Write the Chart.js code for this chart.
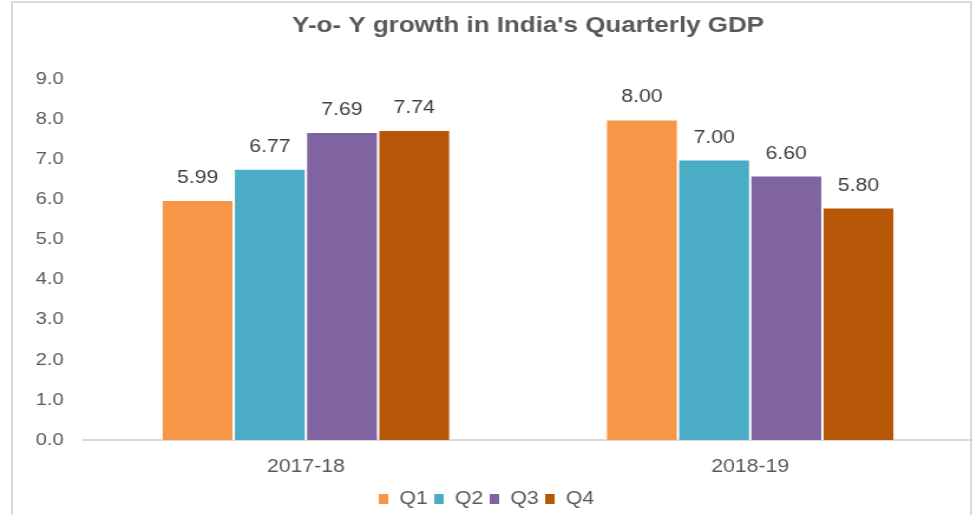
<!DOCTYPE html>
<html>
<head>
<meta charset="utf-8">
<script src="https://cdn.jsdelivr.net/npm/chart.js@4"></script>
<style>
    html, body { margin: 0; padding: 0; background: #fff; overflow: hidden; }
    #frame { position: absolute; left: 11px; top: 1px; width: 957px; height: 540px; border: 2px solid #d9d9d9; }
    /* the source picture is stretched sideways, so the chart is drawn narrow and scaled up */
    #wrap { position: absolute; left: 0; top: 0; width: 825px; height: 518px; transform: scaleX(1.18); transform-origin: 0 0; }
</style>
</head>
<body>
<div id="frame"></div>
<div id="wrap"><canvas id="bar_chart" width="825" height="518"></canvas></div>
<script>
var years = ["2017-18", "2018-19"];
var q1 = [5.99, 8.00];
var q2 = [6.77, 7.00];
var q3 = [7.69, 6.60];
var q4 = [7.74, 5.80];
var yTicks = [0, 1, 2, 3, 4, 5, 6, 7, 8, 9];

var textGrey = '#595959';
var fontFamily = '"Liberation Sans", Arial, sans-serif';

// draws the value on top of each bar
var valueLabels = {
    id: 'valueLabels',
    afterDatasetsDraw: function (chart) {
        var ctx = chart.ctx;
        ctx.save();
        ctx.font = '18px ' + fontFamily;
        ctx.fillStyle = '#404040';
        ctx.textAlign = 'center';
        ctx.textBaseline = 'middle';
        chart.data.datasets.forEach(function (ds, i) {
            chart.getDatasetMeta(i).data.forEach(function (bar, j) {
                ctx.fillText(ds.data[j].toFixed(2), bar.x, bar.y - 22);
            });
        });
        ctx.restore();
    }
};

function dataset(label, data, color) {
    return {
        label: label,
        data: data,
        backgroundColor: color,
        borderColor: '#ffffff',
        borderWidth: 1
    };
}

new Chart(document.getElementById("bar_chart").getContext("2d"), {
    type: 'bar',
    data: {
        labels: years,
        datasets: [
            dataset("Q1", q1, '#f79646'),
            dataset("Q2", q2, '#4bacc6'),
            dataset("Q3", q3, '#8064a2'),
            dataset("Q4", q4, '#b65708')
        ]
    },
    options: {
        responsive: false,
        animation: false,
        layout: { padding: { left: 0, right: 1, top: 0, bottom: 0 } },
        datasets: { bar: { categoryPercentage: 0.65, barPercentage: 1.0 } },
        plugins: {
            title: {
                display: true,
                fullSize: false,
                text: "Y-o- Y growth in India's Quarterly GDP",
                color: textGrey,
                font: { family: fontFamily, size: 22, weight: 'bold' },
                padding: { top: 13, bottom: 40 }
            },
            legend: {
                position: 'bottom',
                labels: {
                    color: textGrey,
                    boxWidth: 9,
                    boxHeight: 11,
                    padding: 5,
                    font: { family: fontFamily, size: 18 }
                }
            },
            tooltip: { enabled: false }
        },
        scales: {
            x: {
                afterFit: function (scale) { scale.height = 45; },
                grid: { display: false },
                border: { display: true, color: '#d9d9d9', width: 2 },
                ticks: {
                    color: textGrey,
                    padding: 8,
                    font: { family: fontFamily, size: 18 }
                }
            },
            y: {
                min: 0,
                max: 9,
                afterFit: function (scale) { scale.width = 71; },
                afterBuildTicks: function (scale) {
                    scale.ticks = yTicks.map(function (v) { return { value: v }; });
                },
                grid: { display: false },
                border: { display: false },
                ticks: {
                    color: textGrey,
                    padding: 9,
                    font: { family: fontFamily, size: 17 },
                    callback: function (v) { return Number(v).toFixed(1); }
                }
            }
        }
    },
    plugins: [valueLabels]
});
</script>
</body>
</html>
